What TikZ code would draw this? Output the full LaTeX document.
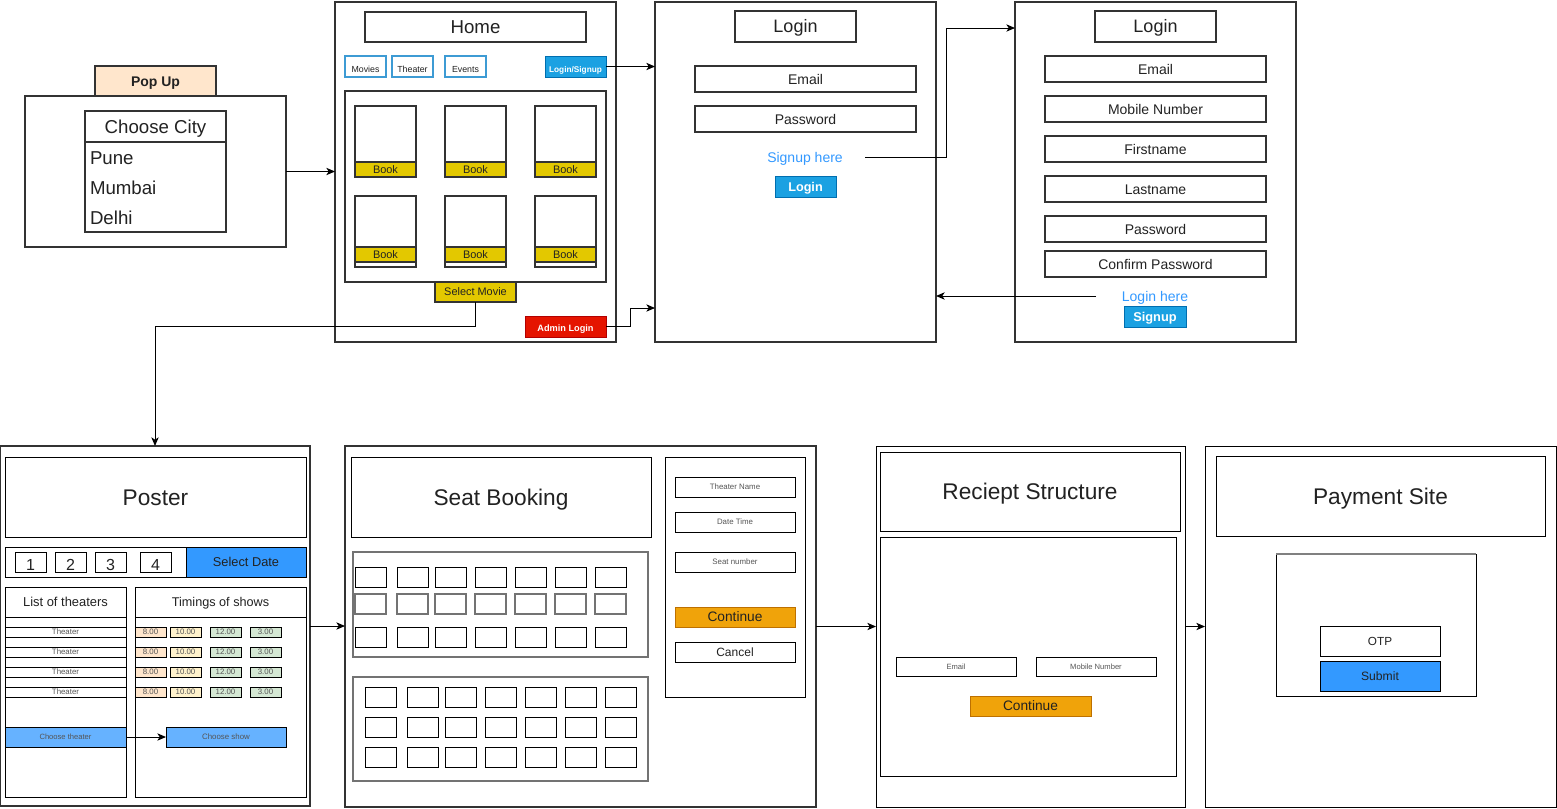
\documentclass[tikz,border=0pt]{standalone}
\usepackage{fontspec}
\setmainfont{Liberation Sans}
\usetikzlibrary{calc,arrows.meta}
\definecolor{txt}{HTML}{222222}
\definecolor{bord}{HTML}{333333}
\definecolor{peach}{HTML}{FFE6CC}
\definecolor{bookc}{HTML}{E3C800}
\definecolor{btnblue}{HTML}{1BA1E2}
\definecolor{btnbord}{HTML}{006EAF}
\definecolor{navb}{HTML}{3D9BD4}
\definecolor{linkc}{HTML}{3399FF}
\definecolor{adminr}{HTML}{E51400}
\definecolor{adminb}{HTML}{B20000}
\definecolor{orng}{HTML}{F0A30A}
\definecolor{orngb}{HTML}{BD7000}
\definecolor{dateblue}{HTML}{3399FF}
\definecolor{chblue}{HTML}{66B2FF}
\definecolor{tone}{HTML}{FFE6CC}
\definecolor{ttwo}{HTML}{FFF2CC}
\definecolor{tthree}{HTML}{D5E8D4}
\definecolor{smalltxt}{HTML}{555555}
\newcommand\bx[5][]{%
  \path (#3) coordinate (bxA) (#4) coordinate (bxB);
  \path let \p1=(bxA), \p2=(bxB) in
    node[base,#1,minimum width={abs(\x2-\x1)},minimum height={abs(\y2-\y1)}]
      (#2) at ($(bxA)!0.5!(bxB)$) {#5};%
}
\begin{document}
\begin{tikzpicture}[x=0.75pt,y=-0.75pt,
  base/.style={inner sep=0pt,outer sep=0pt,text=txt,text depth=0pt},
  fs/.style={font=\fontsize{#1}{#1}\selectfont,text height=0.72*#1pt},
  fsb/.style={font=\fontsize{#1}{#1}\selectfont\bfseries,text height=0.72*#1pt},
  panel/.style={draw=bord,line width=1.4pt},
  midb/.style={draw=bord,line width=1.1pt},
  thinb/.style={draw=black,line width=0.75pt},
  grayb/.style={draw=black!55,line width=1.1pt},
  navbtn/.style={draw=navb,line width=1.1pt,fs=6.6},
  bluebtn/.style={fill=btnblue,draw=btnbord,line width=0.75pt,text=white},
  bookbar/.style={fill=bookc,draw=bord,line width=1.1pt,fs=8.2},
  orangebtn/.style={fill=orng,draw=orngb,line width=0.75pt,fs=10.3},
  smallbox/.style={thinb,fs=5.9,text=smalltxt},
  arr/.style={-{Stealth[length=6.5pt,width=5.5pt,inset=1.8pt]},line width=0.75pt,draw=black},
]
\useasboundingbox (0,0) rectangle (1557,808);
\fill[white] (0,0) rectangle (1557,808);

% ---------- Pop up ----------
\bx[panel]{popup}{25,96}{286,247}{}
\bx[midb,fill=peach,fsb=10.5]{poptab}{95,66}{216,96}{Pop Up}
\bx[midb]{city}{85,111}{226,232}{}
\bx[midb,fs=14]{cityh}{85,111}{226,142}{Choose City}
\node[base,fs=14,anchor=west] (pune) at (90,158) {Pune};
\node[base,fs=14,anchor=west] (mumbai) at (90,188) {Mumbai};
\node[base,fs=14,anchor=west] (delhi) at (90,218) {Delhi};

% ---------- Home ----------
\bx[panel]{home}{335,2}{616,342}{}
\bx[midb,fs=14]{hometitle}{365,12}{586,42}{Home}
\bx[navbtn]{movies}{345,56}{386,77}{\raisebox{-2pt}{Movies}}
\bx[navbtn]{theater}{392,56}{433,77}{\raisebox{-2pt}{Theater}}
\bx[navbtn]{events}{445,56}{486,77}{\raisebox{-2pt}{Events}}
\bx[bluebtn,fsb=6.2]{loginsignup}{545,56}{606,77}{\raisebox{-2pt}{Login/Signup}}
\bx[midb]{grid}{345,91}{606,282}{}
\foreach \k/\xx in {1/355,2/445,3/535} {
  \bx[midb]{card\k}{\xx,106}{\xx+61,177}{}
  \bx[bookbar]{book\k}{\xx,162}{\xx+61,177}{Book}
}
\foreach \k/\xx in {4/355,5/445,6/535} {
  \bx[midb]{card\k}{\xx,196}{\xx+61,267}{}
  \bx[bookbar]{book\k}{\xx,247}{\xx+61,262}{Book}
}
\bx[bookbar]{selectmovie}{435,282}{516,302}{Select Movie}
\bx[fill=adminr,draw=adminb,line width=0.75pt,text=white,fsb=6.9]{admin}{525,316}{606,337}{\raisebox{-1.5pt}{Admin Login}}

% ---------- Login 1 ----------
\bx[panel]{login1}{655,2}{936,342}{}
\bx[midb,fs=13.5]{lonetitle}{735,11}{856,42}{Login}
\bx[midb,fs=10.5]{loneemail}{695,66}{916,92}{Email}
\bx[midb,fs=10.5]{lonepass}{695,106}{916,132}{Password}
\bx[text=linkc,fs=10.5]{signuphere}{745,147}{865,167}{Signup here}
\bx[bluebtn,fsb=9.5]{lonebtn}{775,176}{836,197}{Login}

% ---------- Login 2 ----------
\bx[panel]{login2}{1015,2}{1296,342}{}
\bx[midb,fs=13.5]{ltwotitle}{1095,11}{1216,42}{Login}
\bx[midb,fs=10.5]{ltwoemail}{1045,56}{1266,82}{Email}
\bx[midb,fs=10.5]{ltwomobile}{1045,96}{1266,122}{Mobile Number}
\bx[midb,fs=10.5]{ltwofirst}{1045,136}{1266,162}{Firstname}
\bx[midb,fs=10.5]{ltwolast}{1045,176}{1266,202}{Lastname}
\bx[midb,fs=10.5]{ltwopass}{1045,216}{1266,242}{Password}
\bx[midb,fs=10.5]{ltwoconf}{1045,251}{1266,277}{Confirm Password}
\bx[text=linkc,fs=10.5]{loginhere}{1096,288}{1214,304}{Login here}
\bx[bluebtn,fsb=9.6]{signupbtn}{1124,306}{1186,327}{Signup}

% ---------- Poster ----------
\bx[panel]{poster}{0,446}{310,806}{}
\bx[thinb,fs=17]{postertitle}{5,457}{306,537}{Poster}
\bx[thinb]{datebar}{5,547}{306,577}{}
\bx[thinb,fill=dateblue,fs=9.6]{selectdate}{186,547}{306,577}{Select Date}
\foreach \k/\xx in {1/15,2/55,3/95,4/140} {
  \bx[thinb,fs=12]{date\k}{\xx,552}{\xx+31,572}{\raisebox{-2pt}{\k}}
}
\bx[thinb]{theaterlist}{5,587}{126,797}{}
\bx[thinb,fs=9.7]{listhead}{5,587}{126,617}{List of theaters}
\foreach \k/\yy in {1/627,2/647,3/667,4/687} {
  \bx[smallbox]{th\k}{5,\yy}{126,\yy+10}{Theater}
}
\bx[thinb,fill=chblue,fs=5.7,text=smalltxt]{choosetheater}{5,727}{126,747}{Choose theater}
\bx[thinb]{timings}{135,587}{306,797}{}
\bx[thinb,fs=9.5]{timehead}{135,587}{306,617}{Timings of shows}
\foreach \r/\yy in {1/627,2/647,3/667,4/687} {
  \bx[smallbox,fill=tone]{ta\r}{135,\yy}{166,\yy+10}{8.00}
  \bx[smallbox,fill=ttwo]{tb\r}{170,\yy}{201,\yy+10}{10.00}
  \bx[smallbox,fill=tthree]{tc\r}{210,\yy}{241,\yy+10}{12.00}
  \bx[smallbox,fill=tthree]{td\r}{250,\yy}{281,\yy+10}{3.00}
}
\bx[thinb,fill=chblue,fs=5.9,text=smalltxt]{chooseshow}{166,727}{286,747}{Choose show}

% ---------- Seat booking ----------
\bx[panel]{seat}{345,446}{816,807}{}
\bx[thinb,fs=17]{seattitle}{351,457}{651,537}{Seat Booking}
\bx[grayb]{seatpa}{353,552}{648,657}{}
\foreach \c/\xx in {1/355,2/397,3/435,4/475,5/515,6/555,7/595} {
  \bx[thinb]{sa\c}{\xx,567}{\xx+31,587}{}
  \bx[grayb]{sb\c}{\xx,594}{\xx+31,614}{}
  \bx[thinb]{sc\c}{\xx,627}{\xx+31,647}{}
}
\bx[grayb]{seatpb}{353,677}{648,781}{}
\foreach \c/\xx in {1/365,2/407,3/445,4/485,5/525,6/565,7/605} {
  \bx[thinb]{sd\c}{\xx,687}{\xx+31,707}{}
  \bx[thinb]{se\c}{\xx,717}{\xx+31,737}{}
  \bx[thinb]{sf\c}{\xx,747}{\xx+31,767}{}
}
\bx[thinb]{seatinfo}{665,457}{805,697}{}
\bx[smallbox]{thname}{675,477}{795,497}{Theater Name}
\bx[smallbox]{datetime}{675,512}{795,532}{Date Time}
\bx[smallbox]{seatnum}{675,552}{795,572}{Seat number}
\bx[orangebtn]{seatcont}{675,607}{795,627}{Continue}
\bx[thinb,fs=9]{cancel}{675,642}{795,662}{Cancel}

% ---------- Receipt ----------
\bx[thinb]{receipt}{876,446}{1185,807}{}
\bx[thinb,fs=17]{rtitle}{880,452}{1180,531}{Reciept Structure}
\bx[thinb]{rbody}{880,537}{1176,776}{}
\bx[smallbox,fs=5.7]{remail}{896,657}{1016,676}{Email}
\bx[smallbox,fs=5.7]{rmobile}{1036,657}{1156,676}{Mobile Number}
\bx[orangebtn]{rcont}{970,696}{1091,716}{Continue}

% ---------- Payment ----------
\bx[thinb]{payment}{1205,446}{1556,807}{}
\bx[thinb,fs=17]{ptitle}{1216,456}{1545,536}{Payment Site}
\bx[thinb]{pbox}{1276,554}{1476,696}{}
\draw[gray,line width=1.5pt] (pbox.north west) -- (pbox.north east);
\bx[thinb,fs=8.8]{otp}{1320,626}{1440,656}{OTP}
\bx[thinb,fill=dateblue,fs=9.1]{submit}{1320,661}{1440,691}{Submit}

% ---------- Connectors ----------
\coordinate (cadmin) at (630,308);
\coordinate (csign) at (946,28);
\coordinate (cmovie) at (155,326);
\draw[arr] (popup.east) -- (popup.east -| home.west);
\draw[arr] (loginsignup.east) -- (loginsignup.east -| login1.west);
\draw[arr] (admin.east) -| (cadmin) -- (cadmin -| login1.west);
\draw[arr] (signuphere.east) -| (csign) -- (csign -| login2.west);
\draw[arr] (loginhere.west) -- (loginhere.west -| login1.east);
\draw[arr] (selectmovie.south) |- (cmovie) -- (poster.north);
\draw[arr] (choosetheater.east) -- (chooseshow.west);
\draw[arr] (poster.east) -- (poster.east -| seat.west);
\draw[arr] (seat.east) -- (seat.east -| receipt.west);
\draw[arr] (receipt.east) -- (receipt.east -| payment.west);
\end{tikzpicture}
\end{document}
